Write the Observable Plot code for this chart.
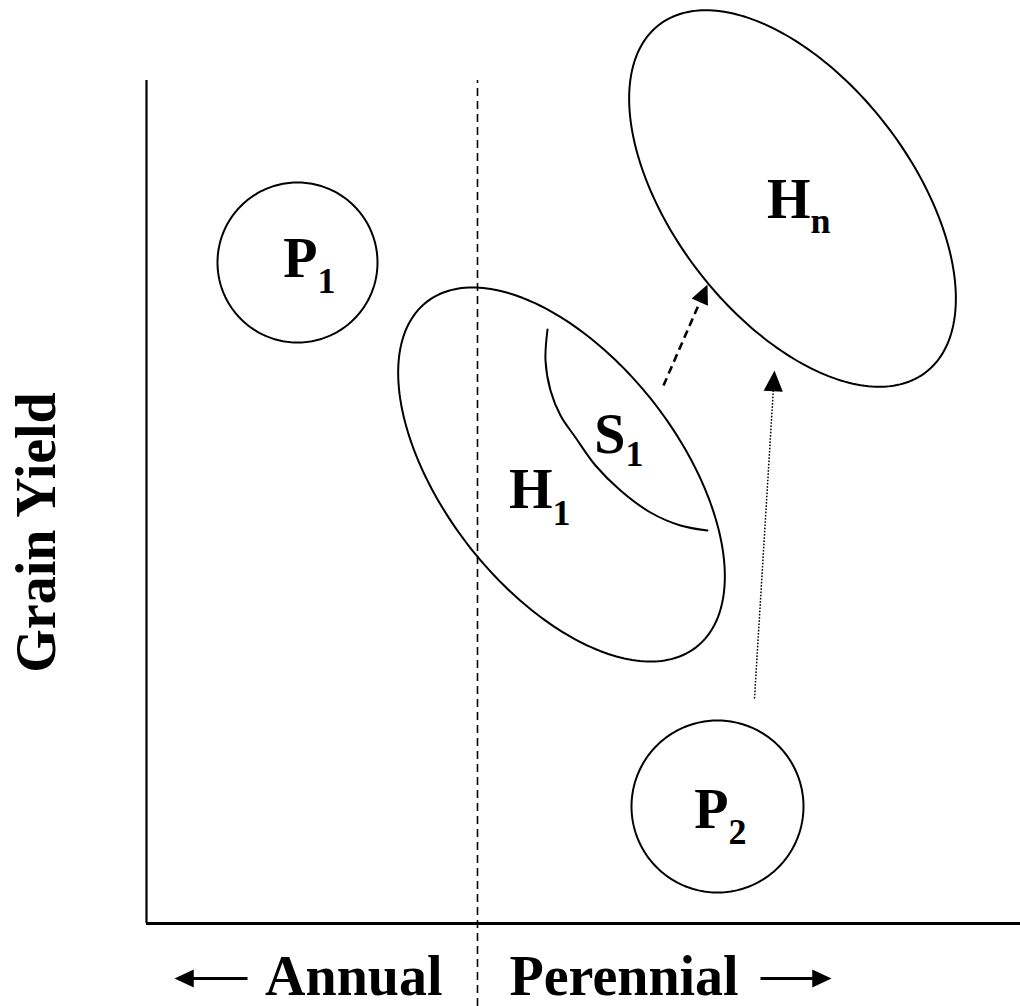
<!DOCTYPE html>
<html><head><meta charset="utf-8">
<script src="https://cdn.jsdelivr.net/npm/d3@7"></script>
<script src="https://cdn.jsdelivr.net/npm/@observablehq/plot@0.6"></script>
<style>
html,body{margin:0;padding:0;background:#fff;}
#chart{width:1020px;height:1006px;}
</style></head><body><div id="chart"></div>
<script>
// Diagram units (1 unit = 1 px), origin at the axis corner
const xDomain = [0, 874];   // annual -> perennial
const yDomain = [0, 843];   // grain yield

const dividerX = [331];

// Parent populations (circles)
const circleNames = ["P1", "P2"];
const circleX = [151, 571];
const circleY = [661, 117];
const circleR = [80, 86];

// Hybrid populations (ellipses)
const ellipseNames = ["H1", "Hn"];
const ellipseX = [415, 646];
const ellipseY = [449, 725];
const ellipseA = [219, 219];
const ellipseB = [117, 119];
const ellipseAngle = [-52, -52.5];

// S1 selection boundary inside H1
const s1X = [401, 399, 404, 414, 429, 449, 474, 504, 534, 561];
const s1Y = [594, 563, 533, 508, 486, 458, 433, 411, 398, 393];

// Arrows toward Hn: dashed (from S1) and dotted (from P2)
const dashedArrow = {x1: 517, y1: 538, x2: 561, y2: 639};
const dottedArrow = {x1: 608, y1: 225, x2: 628, y2: 553};

// Population labels (letter + subscript)
const labelMain = ["P", "P", "H", "S", "H"];
const labelSub = ["1", "2", "1", "1", "n"];
const labelX = [171, 582, 406, 479, 664];
const labelY = [647, 96, 416, 471, 706];
const labelSubDrop = [16, 16, 17, 13, 15];

// Axis texts
const xTextLeft = "Annual";
const xTextRight = "Perennial";
const xTextLeftX = 296;
const xTextRightX = 363;
const xTextY = -71;
const dirArrowX1 = [101, 614];
const dirArrowX2 = [28, 685];
const dirArrowY = -55;
const yTitle = "Grain Yield";
const yTitleX = -92;
const yTitleY = 391;

// ---- geometry helpers ----
function ellipsePoints(name, cx, cy, a, b, deg) {
  const phi = deg * Math.PI / 180, n = 240, pts = [];
  for (let i = 0; i <= n; i++) {
    const t = 2 * Math.PI * i / n;
    pts.push({
      name,
      x: cx + a * Math.cos(t) * Math.cos(phi) - b * Math.sin(t) * Math.sin(phi),
      y: cy + a * Math.cos(t) * Math.sin(phi) + b * Math.sin(t) * Math.cos(phi)
    });
  }
  return pts;
}
const shapes = [
  ...circleNames.flatMap((n, i) => ellipsePoints(n, circleX[i], circleY[i], circleR[i], circleR[i], 0)),
  ...ellipseNames.flatMap((n, i) => ellipsePoints(n, ellipseX[i], ellipseY[i], ellipseA[i], ellipseB[i], ellipseAngle[i]))
];
const s1 = s1X.map((x, i) => ({x, y: s1Y[i]}));

const headBack = 12;
function arrowRec({x1, y1, x2, y2}) {
  const dx = x2 - x1, dy = y2 - y1, len = Math.hypot(dx, dy);
  return {x1, y1, x2, y2,
    xe: x2 - dx / len * headBack, ye: y2 - dy / len * headBack,
    angle: Math.atan2(dx, dy) * 180 / Math.PI};
}
const dashed = [arrowRec(dashedArrow)];
const dotted = [arrowRec(dottedArrow)];
const dirArrows = dirArrowX1.map((x1, i) => arrowRec({x1, y1: dirArrowY, x2: dirArrowX2[i], y2: dirArrowY}));

const arrowHead = {
  draw(context, size) {
    const r = Math.sqrt(size / Math.PI);
    const L = 2.6 * r, w = 1.2 * r;
    context.moveTo(0, 0);
    context.lineTo(-w, L);
    context.lineTo(w, L);
    context.closePath();
  }
};

const subs = labelSub.map((s, i) => ({s, x: labelX[i], y: labelY[i] - labelSubDrop[i]}));

const font = "'Liberation Serif', 'Times New Roman', serif";
const textStyle = {fontFamily: font, fontWeight: "bold", fill: "black"};

const chart = Plot.plot({
  width: 1020,
  height: 1006,
  marginLeft: 146,
  marginRight: 0,
  marginTop: 80,
  marginBottom: 83,
  x: {domain: xDomain, axis: null},
  y: {domain: yDomain, axis: null},
  style: {background: "white", overflow: "visible"},
  marks: [
    Plot.ruleX([0], {y1: 0, y2: yDomain[1], stroke: "black", strokeWidth: 2.2}),
    Plot.ruleY([0], {x1: 0, x2: xDomain[1], stroke: "black", strokeWidth: 3}),
    Plot.ruleX(dividerX, {y1: -83, y2: yDomain[1], stroke: "black", strokeWidth: 1.6, strokeDasharray: "8,5"}),
    Plot.line(shapes, {x: "x", y: "y", z: "name", stroke: "black", strokeWidth: 2, curve: "linear"}),
    Plot.line(s1, {x: "x", y: "y", stroke: "black", strokeWidth: 2, curve: "catmull-rom"}),
    Plot.link(dashed, {x1: "x1", y1: "y1", x2: "xe", y2: "ye", stroke: "black", strokeWidth: 2.6, strokeDasharray: "8,5"}),
    Plot.dot(dashed, {x: "x2", y: "y2", symbol: arrowHead, r: 7.4, rotate: "angle", fill: "black", stroke: "none"}),
    Plot.link(dotted, {x1: "x1", y1: "y1", x2: "xe", y2: "ye", stroke: "black", strokeWidth: 1.5, strokeDasharray: "1.6,1.6"}),
    Plot.dot(dotted, {x: "x2", y: "y2", symbol: arrowHead, r: 8, rotate: "angle", fill: "black", stroke: "none"}),
    Plot.link(dirArrows, {x1: "x1", y1: "y1", x2: "xe", y2: "ye", stroke: "black", strokeWidth: 2.8}),
    Plot.dot(dirArrows, {x: "x2", y: "y2", symbol: arrowHead, r: 7.4, rotate: "angle", fill: "black", stroke: "none"}),
    Plot.text(labelMain, {x: labelX, y: labelY, text: d => d, textAnchor: "end", lineAnchor: "bottom", fontSize: 56, ...textStyle}),
    Plot.text(subs, {x: "x", y: "y", text: "s", textAnchor: "start", lineAnchor: "bottom", fontSize: 36, ...textStyle}),
    Plot.text([xTextLeft], {x: [xTextLeftX], y: [xTextY], text: d => d, textAnchor: "end", lineAnchor: "bottom", fontSize: 56, ...textStyle}),
    Plot.text([xTextRight], {x: [xTextRightX], y: [xTextY], text: d => d, textAnchor: "start", lineAnchor: "bottom", fontSize: 56, ...textStyle}),
    Plot.text([yTitle], {x: [yTitleX], y: [yTitleY], text: d => d, rotate: -90, textAnchor: "middle", lineAnchor: "bottom", fontSize: 56, ...textStyle})
  ]
});
document.getElementById("chart").appendChild(chart);
</script>
</body></html>
